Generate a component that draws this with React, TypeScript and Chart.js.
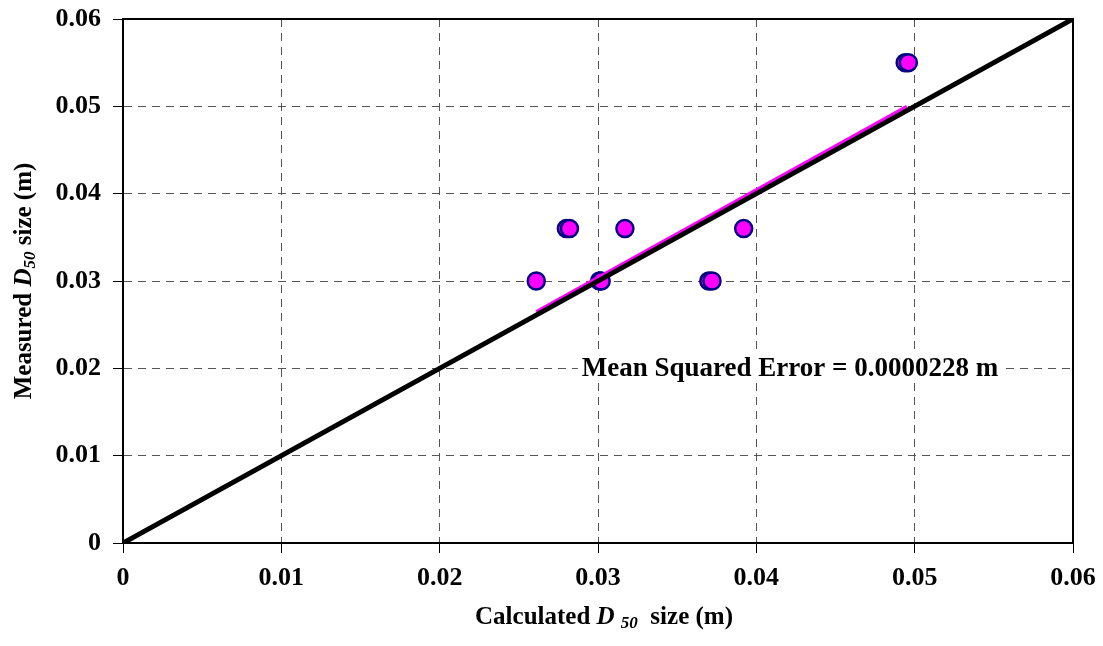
import React, { useEffect, useRef } from "react";
import { Chart, registerables } from "chart.js";

Chart.register(...registerables);

// ---- data ----
const calculatedD50 = [0.0280, 0.0282, 0.0317, 0.0392, 0.0261, 0.0301, 0.0302, 0.0370, 0.0372, 0.0494, 0.0496];
const measuredD50 = [0.036, 0.036, 0.036, 0.036, 0.030, 0.030, 0.030, 0.030, 0.030, 0.055, 0.055];
const perfectX = [0, 0.06];
const perfectY = [0, 0.06];
const trendX = [0.0261, 0.0495];
const trendY = [0.0265, 0.0500];
const tickLabels = ["0", "0.01", "0.02", "0.03", "0.04", "0.05", "0.06"];
const annotationText = "Mean Squared Error = 0.0000228 m";

const FONT = "'Liberation Serif', 'Times New Roman', serif";

type Seg = { t: string; italic?: boolean; sub?: boolean };

function drawRich(ctx: CanvasRenderingContext2D, segs: Seg[], cx: number, cy: number, size: number, rotate: boolean) {
  ctx.save();
  const fontFor = (s: Seg) => `${s.italic ? "italic " : ""}bold ${s.sub ? Math.round(size * 0.68) : size}px ${FONT}`;
  let total = 0;
  const widths = segs.map((s) => {
    ctx.font = fontFor(s);
    const w = ctx.measureText(s.t).width;
    total += w;
    return w;
  });
  ctx.translate(cx, cy);
  if (rotate) ctx.rotate(-Math.PI / 2);
  ctx.textBaseline = "middle";
  ctx.textAlign = "left";
  ctx.fillStyle = "#000";
  let x = -total / 2;
  segs.forEach((s, i) => {
    ctx.font = fontFor(s);
    ctx.fillText(s.t, x, s.sub ? size * 0.22 : 0);
    x += widths[i];
  });
  ctx.restore();
}

const customPlugin = {
  id: "customDecor",
  beforeDatasetsDraw(chart: any) {
    const { ctx, chartArea } = chart;
    ctx.save();
    ctx.strokeStyle = "#000";
    ctx.lineWidth = 2;
    ctx.strokeRect(chartArea.left, chartArea.top, chartArea.right - chartArea.left, chartArea.bottom - chartArea.top);
    ctx.restore();
  },
  afterDraw(chart: any) {
    const { ctx } = chart;
    const xs = chart.scales.x;
    const ys = chart.scales.y;
    // annotation
    ctx.save();
    ctx.font = `bold 27px ${FONT}`;
    const w = ctx.measureText(annotationText).width;
    const cx = 790;
    const cy = ys.getPixelForValue(0.02);
    ctx.fillStyle = "#fff";
    ctx.fillRect(cx - w / 2 - 4, cy - 14, w + 8, 28);
    ctx.fillStyle = "#000";
    ctx.textAlign = "center";
    ctx.textBaseline = "middle";
    ctx.fillText(annotationText, cx, cy + 1);
    ctx.restore();
    // axis titles
    const xMid = (xs.left + xs.right) / 2 + 6;
    drawRich(ctx, [{ t: "Calculated " }, { t: "D ", italic: true }, { t: "50", italic: true, sub: true }, { t: "  size (m)" }], xMid, 618, 25, false);
    const yMid = (ys.top + ys.bottom) / 2;
    drawRich(ctx, [{ t: "Measured " }, { t: "D", italic: true }, { t: "50", italic: true, sub: true }, { t: " size (m)" }], 25, yMid, 25, true);
  },
};

export default function App() {
  const ref = useRef<HTMLCanvasElement | null>(null);
  useEffect(() => {
    if (!ref.current) return;
    const tickFont = { family: FONT, size: 26, weight: "bold" as const };
    const chart = new Chart(ref.current, {
      type: "scatter",
      data: {
        datasets: [
          {
            label: "Perfect agreement",
            data: perfectX.map((x, i) => ({ x, y: perfectY[i] })),
            showLine: true,
            borderColor: "#000",
            borderWidth: 5,
            pointRadius: 0,
            order: 0,
          },
          {
            label: "Trend",
            data: trendX.map((x, i) => ({ x, y: trendY[i] })),
            showLine: true,
            borderColor: "#FF00FF",
            borderWidth: 3,
            pointRadius: 0,
            order: 1,
          },
          {
            label: "Data",
            data: calculatedD50.map((x, i) => ({ x, y: measuredD50[i] })),
            backgroundColor: "#FF00FF",
            borderColor: "#000080",
            borderWidth: 2.5,
            pointRadius: 8.5,
            order: 2,
          },
        ],
      },
      options: {
        animation: false,
        responsive: false,
        layout: { padding: { top: 19, right: 30, left: 0, bottom: 0 } },
        plugins: { legend: { display: false }, tooltip: { enabled: false } },
        scales: {
          x: {
            type: "linear",
            min: 0,
            max: 0.06,
            ticks: {
              stepSize: 0.01,
              color: "#000",
              font: tickFont,
              padding: 10,
              maxRotation: 0,
              callback: (v: any) => tickLabels[Math.round(Number(v) * 100)],
            },
            grid: { color: "#555", lineWidth: 1, tickColor: "#000", tickLength: 10, tickWidth: 1, tickBorderDash: [] },
            border: { display: true, color: "#000", width: 2, dash: [8, 6] },
            afterFit: (s: any) => {
              s.height = 103;
              s.paddingLeft = 0;
              s.paddingRight = 0;
            },
          },
          y: {
            type: "linear",
            min: 0,
            max: 0.06,
            ticks: {
              stepSize: 0.01,
              color: "#000",
              font: tickFont,
              padding: 12,
              callback: (v: any) => tickLabels[Math.round(Number(v) * 100)],
            },
            grid: { color: "#555", lineWidth: 1, tickColor: "#000", tickLength: 10, tickWidth: 1, tickBorderDash: [] },
            border: { display: true, color: "#000", width: 2, dash: [8, 6] },
            afterFit: (s: any) => {
              s.width = 123;
              s.paddingTop = 0;
              s.paddingBottom = 0;
            },
          },
        },
      },
      plugins: [customPlugin],
    });
    return () => chart.destroy();
  }, []);
  return (
    <div style={{ position: "absolute", left: 0, top: 0, width: 1103, height: 646, background: "#fff" }}>
      <canvas ref={ref} width={1103} height={646} style={{ display: "block" }} />
    </div>
  );
}
